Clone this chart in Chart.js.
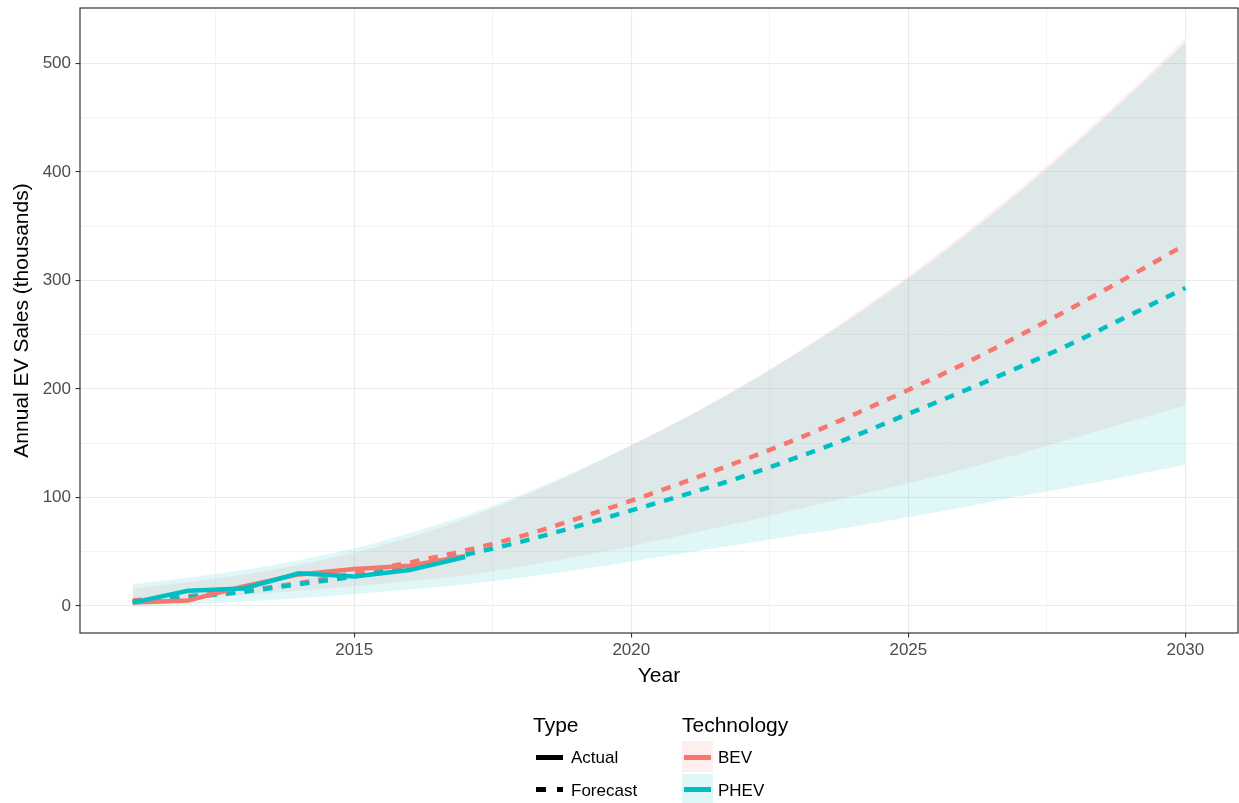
<!DOCTYPE html>
<html>
<head>
<meta charset="utf-8">
<title>Annual EV Sales forecast</title>
<script src="https://cdn.jsdelivr.net/npm/chart.js@4.4.1/dist/chart.umd.min.js"></script>
<style>
    body { margin: 0; background: #fff; }
    #wrap {
        position: relative; width: 1239px; height: 803px; overflow: hidden;
        font-family: "Liberation Sans", Arial, Helvetica, sans-serif;
    }
    #evChart { position: absolute; left: 0; top: 0; }
    .lg { position: absolute; white-space: nowrap; line-height: 1; color: #000; }
    .lg-title { font-size: 21px; }
    .lg-text { font-size: 17px; }
    .key { position: absolute; }
</style>
</head>
<body>
<div id="wrap">
    <canvas id="evChart" width="1239" height="803"></canvas>

    <!-- Legend: Type -->
    <div class="lg lg-title" style="left:533px; top:714px;">Type</div>
    <div class="key" style="left:536px; top:754.5px; width:27px; height:5px; background:#000;"></div>
    <div class="lg lg-text" style="left:571px; top:748.6px;">Actual</div>
    <div class="key" style="left:536px; top:786.5px; width:10px; height:5px; background:#000;"></div>
    <div class="key" style="left:556.5px; top:786.5px; width:6.5px; height:5px; background:#000;"></div>
    <div class="lg lg-text" style="left:571px; top:781.6px;">Forecast</div>

    <!-- Legend: Technology -->
    <div class="lg lg-title" style="left:682px; top:714px;">Technology</div>
    <div class="key" style="left:682px; top:741px; width:31px; height:31px; background:rgba(248,118,109,0.12);"></div>
    <div class="key" style="left:684px; top:754.5px; width:27px; height:5px; background:#F8766D;"></div>
    <div class="lg lg-text" style="left:718px; top:748.6px;">BEV</div>
    <div class="key" style="left:682px; top:774px; width:31px; height:31px; background:rgba(0,191,196,0.12);"></div>
    <div class="key" style="left:684px; top:787px; width:27px; height:5px; background:#00BFC4;"></div>
    <div class="lg lg-text" style="left:718px; top:781.6px;">PHEV</div>
</div>

<script>
// --- 1. Data (thousands of vehicles) ---

const actualYears = [2011, 2012, 2013, 2014, 2015, 2016, 2017];
const bevActual  = [3, 5, 18, 29, 34, 37, 46];
const phevActual = [3, 14, 16, 30, 27, 33, 45];

const forecastYears = [2011, 2012, 2013, 2014, 2015, 2016, 2017, 2018, 2019, 2020,
                       2021, 2022, 2023, 2024, 2025, 2026, 2027, 2028, 2029, 2030];
const bevForecast  = [5, 9, 14, 21, 30, 40, 51, 64, 80, 97, 115, 134, 154, 176, 199, 223, 249, 276, 304, 333];
const phevForecast = [4, 8, 13, 20, 27, 36, 47, 59, 73, 88, 103, 119, 137, 156, 177, 198, 220, 243, 268, 293];

// uncertainty bands
const bevUpper  = [16, 22, 29, 38, 49, 63, 80, 100, 123, 148, 174, 203, 234, 268, 304, 343, 384, 428, 474, 523];
const bevLower  = [3, 6, 10, 14, 18, 23, 28, 36, 45, 55, 66, 77, 89, 101, 113, 126, 140, 155, 170, 185];
const phevUpper = [20, 26, 33, 42, 53, 67, 83, 102, 124, 148, 174, 202, 233, 266, 302, 340, 381, 425, 471, 519];
const phevLower = [-1, 1, 4, 7, 11, 15, 20, 26, 33, 41, 49, 57, 65, 73, 82, 91, 101, 110, 120, 130];

// axis ticks (major get labels, minor only grid lines)
const xTicks = [2012.5, 2015, 2017.5, 2020, 2022.5, 2025, 2027.5, 2030];
const yTicks = [0, 50, 100, 150, 200, 250, 300, 350, 400, 450, 500];

// --- 2. Colours ---
const BEV_COLOR = '#F8766D';
const PHEV_COLOR = '#00BFC4';
const BEV_FILL = 'rgba(248, 118, 109, 0.12)';
const PHEV_FILL = 'rgba(0, 191, 196, 0.12)';
const GRID = '#EBEBEB';
const INK = '#333333';
const TICK_TEXT = '#4D4D4D';

// --- 3. Helpers ---
function toPoints(xs, ys) {
    return xs.map((x, i) => ({ x: x, y: ys[i] }));
}

function lineSet(xs, ys, color, dashed) {
    return {
        data: toPoints(xs, ys),
        borderColor: color,
        borderWidth: 4.5,
        borderDash: dashed ? [9.5, 9.2] : [],
        borderCapStyle: 'butt',
        pointRadius: 0,
        fill: false,
        tension: 0,
        cubicInterpolationMode: dashed ? 'monotone' : 'default'
    };
}

function bandEdge(ys, fillColor, isUpper) {
    return {
        data: toPoints(forecastYears, ys),
        borderWidth: 0,
        borderColor: 'transparent',
        backgroundColor: fillColor,
        pointRadius: 0,
        cubicInterpolationMode: 'monotone',
        fill: isUpper ? '+1' : false
    };
}

const isMajorX = v => v % 5 === 0;
const isMajorY = v => v % 100 === 0;

// panel border like ggplot theme_bw, drawn on top of the data
const panelBorder = {
    id: 'panelBorder',
    afterDatasetsDraw(chart) {
        const { ctx, chartArea } = chart;
        ctx.save();
        ctx.strokeStyle = INK;
        ctx.lineWidth = 1.2;
        ctx.strokeRect(chartArea.left, chartArea.top,
                       chartArea.right - chartArea.left, chartArea.bottom - chartArea.top);
        ctx.restore();
    }
};

// --- 4. Chart ---
// index 0 is drawn on top, so lines first and band edges last
const datasets = [
    lineSet(actualYears, phevActual, PHEV_COLOR, false),
    lineSet(actualYears, bevActual, BEV_COLOR, false),
    lineSet(forecastYears, phevForecast, PHEV_COLOR, true),
    lineSet(forecastYears, bevForecast, BEV_COLOR, true),
    bandEdge(phevUpper, PHEV_FILL, true),
    bandEdge(phevLower, PHEV_FILL, false),
    bandEdge(bevUpper, BEV_FILL, true),
    bandEdge(bevLower, BEV_FILL, false)
];

const tickFont = { family: '"Liberation Sans", Arial, sans-serif', size: 17 };
const titleFont = { family: '"Liberation Sans", Arial, sans-serif', size: 21 };

new Chart(document.getElementById('evChart'), {
    type: 'line',
    data: { datasets: datasets },
    options: {
        responsive: false,
        animation: false,
        devicePixelRatio: 1,
        layout: { padding: { left: 0, top: 8, right: 1, bottom: 103 } },
        plugins: {
            legend: { display: false },
            tooltip: { enabled: false }
        },
        scales: {
            x: {
                type: 'linear',
                min: 2010.05,
                max: 2030.95,
                afterBuildTicks: (scale) => { scale.ticks = xTicks.map(v => ({ value: v })); },
                afterFit: (scale) => {
                    scale.height = 67;
                    scale.paddingLeft = 0;
                    scale.paddingRight = 0;
                },
                ticks: {
                    autoSkip: false,
                    maxRotation: 0,
                    padding: 3,
                    color: TICK_TEXT,
                    font: tickFont,
                    callback: (v) => isMajorX(v) ? String(v) : ''
                },
                grid: {
                    color: GRID,
                    lineWidth: (c) => (c.tick && isMajorX(c.tick.value)) ? 1.1 : 0.6,
                    tickLength: 4.5,
                    tickWidth: 1.1,
                    tickColor: (c) => (c.tick && isMajorX(c.tick.value)) ? INK : 'transparent'
                },
                border: { display: false },
                title: {
                    display: true,
                    text: 'Year',
                    color: '#000',
                    font: titleFont,
                    padding: { top: 0, bottom: 11 }
                }
            },
            y: {
                type: 'linear',
                min: -25,
                max: 551,
                afterBuildTicks: (scale) => { scale.ticks = yTicks.map(v => ({ value: v })); },
                afterFit: (scale) => {
                    scale.width = 80;
                    scale.paddingTop = 0;
                    scale.paddingBottom = 0;
                },
                ticks: {
                    autoSkip: false,
                    padding: 4.5,
                    color: TICK_TEXT,
                    font: tickFont,
                    callback: (v) => isMajorY(v) ? String(v) : ''
                },
                grid: {
                    color: GRID,
                    lineWidth: (c) => (c.tick && isMajorY(c.tick.value)) ? 1.1 : 0.6,
                    tickLength: 4.5,
                    tickWidth: 1.1,
                    tickColor: (c) => (c.tick && isMajorY(c.tick.value)) ? INK : 'transparent'
                },
                border: { display: false },
                title: {
                    display: true,
                    text: 'Annual EV Sales (thousands)',
                    color: '#000',
                    font: titleFont,
                    padding: { top: 10, bottom: 0 }
                }
            }
        }
    },
    plugins: [panelBorder]
});
</script>
</body>
</html>
